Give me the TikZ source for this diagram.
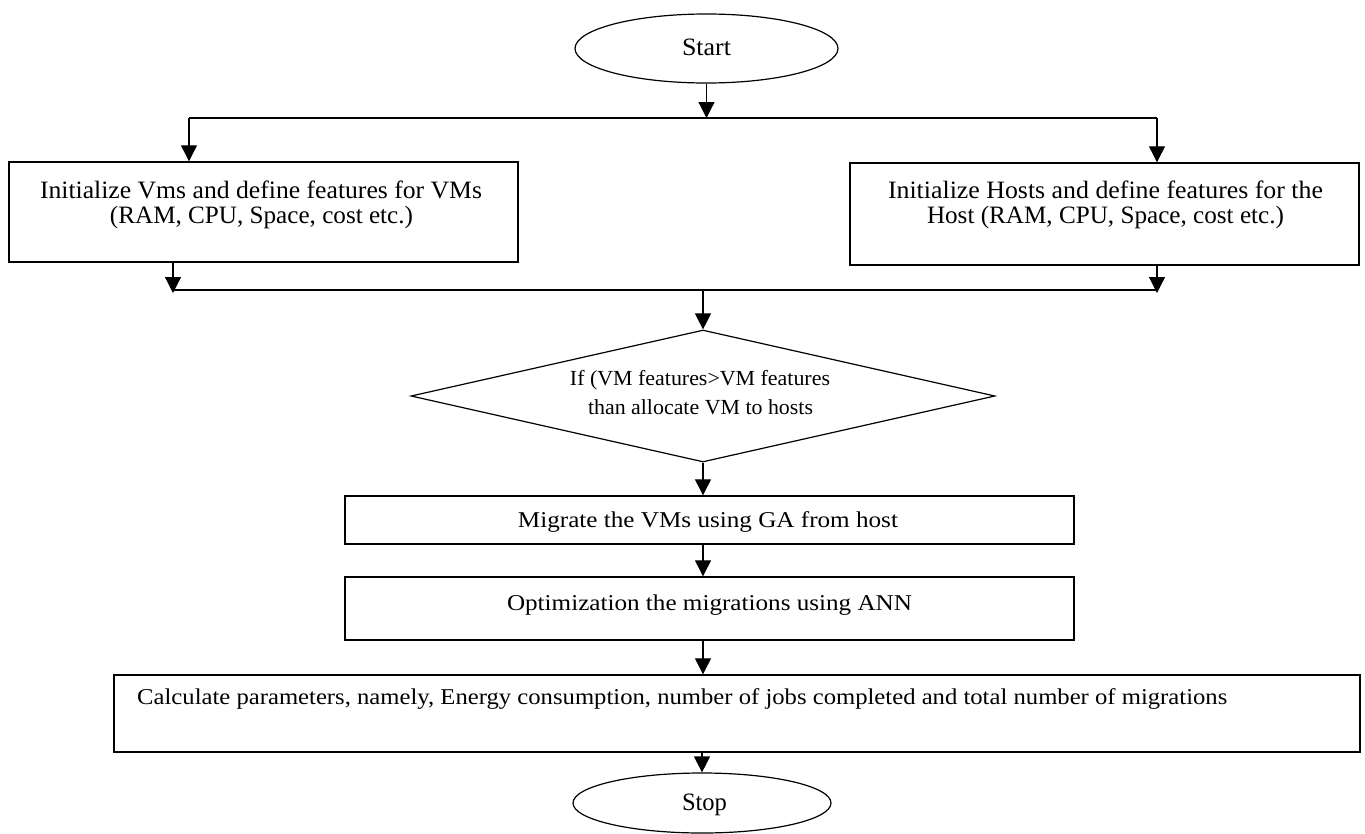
\documentclass[tikz,border=0pt]{standalone}
\usepackage{fontspec}
\setmainfont{Liberation Serif}
\usepackage{graphicx}
\usetikzlibrary{shapes.geometric,arrows.meta}
\newcommand{\fitline}[2]{\resizebox{#1}{\height}{#2}}
\begin{document}
\begin{tikzpicture}[x=1pt,y=-1pt,
  box/.style={draw, line width=1.4pt, inner sep=0pt, rectangle},
  oval/.style={draw, line width=1.2pt, inner sep=0pt, ellipse},
  conn/.style={line width=1.2pt},
  arr/.style={line width=1.2pt, -{Triangle[width=16pt,length=16pt]}},
  lbl/.style={inner sep=0pt, anchor=center},
  big/.style={font=\fontsize{25}{30}\selectfont},
  mid/.style={font=\fontsize{22.6}{27}\selectfont},
  small/.style={font=\fontsize{21.5}{26}\selectfont}]
\useasboundingbox (0,0) rectangle (1365,833);

% shapes
\node[oval, minimum width=263pt, minimum height=69pt] (start) at (706.5,48.5) {};
\node[box, minimum width=509pt, minimum height=100pt] (vm) at (263.5,212) {};
\node[box, minimum width=509pt, minimum height=102pt] (host) at (1104.5,214) {};
\node[draw, line width=1.2pt, diamond, inner sep=0pt, minimum width=584pt, minimum height=132pt] (dec) at (703,396) {};
\node[box, minimum width=729pt, minimum height=48pt] (mig) at (709.5,520) {};
\node[box, minimum width=729pt, minimum height=63pt] (opt) at (709.5,608.5) {};
\node[box, minimum width=1246pt, minimum height=77pt] (calc) at (737,713.5) {};
\node[oval, minimum width=258pt, minimum height=60pt] (stop) at (702,803) {};

% texts
\node[lbl, big] (startt) at (706.5,47) {\fitline{49pt}{Start}};
\node[lbl, big] (vmt1) at (261,190) {\fitline{442pt}{Initialize Vms and define features for VMs}};
\node[lbl, big] (vmt2) at (261.5,217) {\fitline{303pt}{(RAM, CPU, Space, cost etc.)}};
\node[lbl, big] (hostt1) at (1105.5,190) {\fitline{435pt}{Initialize Hosts and define features for the}};
\node[lbl, big] (hostt2) at (1105.5,217) {\fitline{357pt}{Host (RAM, CPU, Space, cost etc.)}};
\node[lbl, small] (dect1) at (700,380) {\fitline{260pt}{If (VM features>VM features}};
\node[lbl, small] (dect2) at (700.5,407) {\fitline{225pt}{than allocate VM to hosts}};
\node[lbl, mid] (migt) at (708,522) {\fitline{380pt}{Migrate the VMs using GA from host}};
\node[lbl, mid] (optt) at (709.5,605) {\fitline{405pt}{Optimization the migrations using ANN}};
\node[inner sep=0pt, anchor=west, mid] (calct) at (137,699) {\fitline{1090pt}{Calculate parameters, namely, Energy consumption, number of jobs completed and total number of migrations}};
\node[lbl, big] (stopt) at (704.5,805) {\fitline{45pt}{Stop}};

% junction coordinates
\coordinate (t1) at (189,118);
\coordinate (t2) at (1157,118);
\coordinate (b1) at (173,290);
\coordinate (b2) at (1157,290);

% connectors
\draw[conn] (t1) -- (t2);
\draw[arr] (start.south) -- (start.south |- t1);
\draw[arr] (t1) -- (t1 |- vm.north);
\draw[arr] (t2) -- (t2 |- host.north);
\draw[conn] (b1) -- (b2);
\draw[arr] (b1 |- vm.south) -- ([yshift=-3pt]b1);
\draw[arr] (b2 |- host.south) -- ([yshift=-3pt]b2);
\draw[arr] (dec.north |- b1) -- (dec.north);
\draw[arr] (dec.south) -- (dec.south |- mig.north);
\draw[arr] (dec.south |- mig.south) -- (dec.south |- opt.north);
\draw[arr] (dec.south |- opt.south) -- (dec.south |- calc.north);
\draw[arr] (stop.north |- calc.south) -- (stop.north);
\end{tikzpicture}
\end{document}
